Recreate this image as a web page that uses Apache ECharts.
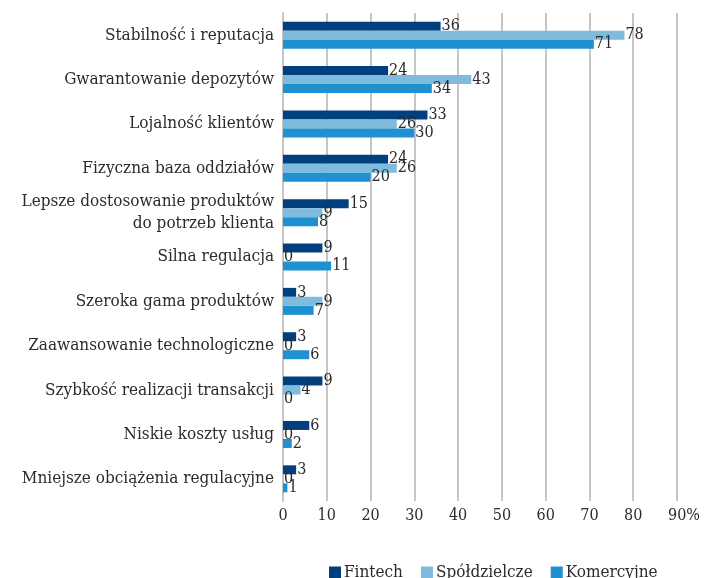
<!DOCTYPE html>
<html>
<head>
<meta charset="utf-8">
<script src="https://cdn.jsdelivr.net/npm/echarts@6/dist/echarts.min.js"></script>
<style>
  html, body { margin: 0; padding: 0; background: #fff; }
  #chart { width: 706px; height: 578px; }
</style>
</head>
<body>
<div id="chart"></div>
<script>
// Factors, top to bottom
const categories = [
  'Stabilność i reputacja',
  'Gwarantowanie depozytów',
  'Lojalność klientów',
  'Fizyczna baza oddziałów',
  'Lepsze dostosowanie produktów\ndo potrzeb klienta',
  'Silna regulacja',
  'Szeroka gama produktów',
  'Zaawansowanie technologiczne',
  'Szybkość realizacji transakcji',
  'Niskie koszty usług',
  'Mniejsze obciążenia regulacyjne'
];
const fintech      = [36, 24, 33, 24, 15, 9, 3, 3, 9, 6, 3];
const spoldzielcze = [78, 43, 26, 26, 9, 0, 9, 0, 4, 0, 0];
const komercyjne   = [71, 34, 30, 20, 8, 11, 7, 6, 0, 2, 1];
const seriesNames  = ['Fintech', 'Spółdzielcze', 'Komercyjne'];
const xTicks = [0, 10, 20, 30, 40, 50, 60, 70, 80, 90];

const FONT = 'DejaVu Serif Condensed';
const TEXT = '#2b2b2b';
const colors = ['#00407f', '#7fbbdd', '#1f90d0'];

function barSeries(name, data, color) {
  return {
    name: name,
    type: 'bar',
    data: data,
    barWidth: 9,
    barGap: '0%',
    itemStyle: { color: color },
    label: {
      show: true,
      position: 'right',
      distance: 1,
      fontFamily: FONT,
      fontSize: 16,
      color: TEXT
    }
  };
}

const chart = echarts.init(document.getElementById('chart'), null, { renderer: 'canvas' });
chart.setOption({
  animation: false,
  color: colors,
  grid: { left: 283, right: 29, top: 13, bottom: 77, containLabel: false },
  xAxis: {
    type: 'value',
    min: xTicks[0],
    max: xTicks[xTicks.length - 1],
    interval: 10,
    axisLine: { show: false },
    axisTick: { show: false },
    splitLine: { lineStyle: { color: '#c6c6c6', width: 2 } },
    axisLabel: {
      fontFamily: FONT,
      fontSize: 16,
      color: TEXT,
      margin: 7,
      formatter: v => (v === 90 ? '{p|90%}' : String(v)),
      rich: { p: { fontFamily: FONT, fontSize: 16, color: TEXT, padding: [0, 0, 0, 14] } }
    }
  },
  yAxis: {
    type: 'category',
    data: categories,
    inverse: true,
    axisLine: { show: true, lineStyle: { color: '#c6c6c6', width: 2 } },
    axisTick: { show: false },
    axisLabel: {
      fontFamily: FONT,
      fontSize: 17,
      color: TEXT,
      margin: 9,
      lineHeight: 22,
      align: 'right'
    }
  },
  legend: {
    data: seriesNames,
    top: 559,
    left: 324,
    itemWidth: 12,
    itemHeight: 12,
    itemGap: 18,
    icon: 'rect',
    textStyle: { fontFamily: FONT, fontSize: 17, color: TEXT, padding: [0, 0, 0, -2] }
  },
  series: [
    barSeries(seriesNames[0], fintech, colors[0]),
    barSeries(seriesNames[1], spoldzielcze, colors[1]),
    barSeries(seriesNames[2], komercyjne, colors[2])
  ]
});
</script>
</body>
</html>
